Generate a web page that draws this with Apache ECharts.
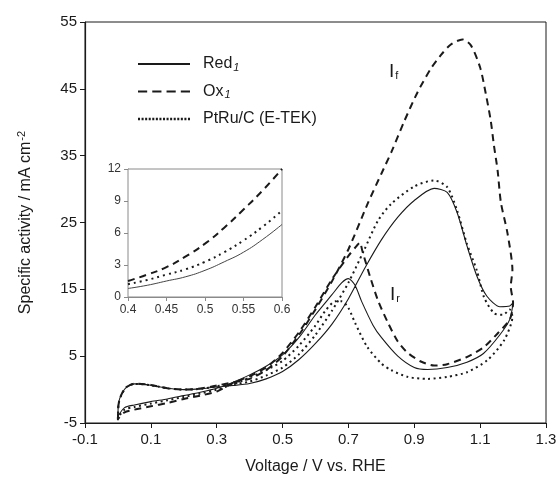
<!DOCTYPE html>
<html>
<head>
<meta charset="utf-8">
<script src="https://cdn.jsdelivr.net/npm/echarts@6/dist/echarts.min.js"></script>
<style>
  html, body { margin: 0; padding: 0; background: #fff; }
  #main { width: 560px; height: 485px; }
</style>
</head>
<body>
<div id="main"></div>
<script>
// main plot: one CV loop per sample, forward scan then backward scan [V, mA cm-2]
var redLoop = [
    [0.0, -4.3], [0.002, -2.0], [0.012, -0.6], [0.027, 0.4], [0.05, 0.85], [0.1, 0.65], [0.15, 0.2],
    [0.2, 0.0], [0.25, 0.1], [0.3, 0.4], [0.35, 0.6], [0.4, 0.9], [0.45, 1.6], [0.5, 2.7], [0.55, 4.5],
    [0.6, 6.9], [0.65, 9.8], [0.7, 13.6], [0.75, 18.2], [0.8, 22.4], [0.85, 25.8], [0.9, 28.3],
    [0.96, 30.1], [1.0, 29.5], [1.03, 26.5], [1.06, 21.5], [1.09, 17.0], [1.12, 14.0], [1.16, 12.4],
    [1.19, 12.5], [1.2, 13.0],
    [1.19, 10.5], [1.16, 8.2], [1.11, 5.4], [1.06, 4.1], [1.0, 3.3], [0.94, 3.0], [0.9, 3.3],
    [0.85, 5.0], [0.8, 7.8], [0.775, 9.6], [0.74, 13.2], [0.72, 15.6], [0.70, 16.6], [0.68, 16.0],
    [0.65, 14.2], [0.6, 11.2], [0.55, 7.8], [0.5, 5.2], [0.45, 3.5], [0.4, 2.2], [0.35, 1.1],
    [0.3, 0.2], [0.25, -0.4], [0.2, -0.9], [0.15, -1.4], [0.1, -1.8], [0.05, -2.3], [0.02, -2.7], [0.0, -4.0]
];
var oxLoop = [
    [0.0, -4.6], [0.002, -2.2], [0.012, -0.6], [0.027, 0.4], [0.05, 0.9], [0.1, 0.7], [0.15, 0.2],
    [0.2, 0.0], [0.25, 0.15], [0.3, 0.6], [0.35, 1.1], [0.4, 1.6], [0.45, 2.9], [0.5, 5.0], [0.55, 8.2],
    [0.6, 12.0], [0.65, 16.2], [0.7, 21.0], [0.76, 28.0], [0.8, 32.3], [0.83, 35.5], [0.87, 40.2],
    [0.91, 44.5], [0.95, 48.0], [0.98, 50.0], [1.01, 51.6], [1.046, 52.4], [1.072, 51.5], [1.1, 48.2],
    [1.117, 44.3], [1.132, 40.3], [1.142, 36.5], [1.153, 32.8], [1.163, 28.0], [1.183, 23.4],
    [1.198, 17.9], [1.193, 15.4], [1.2, 13.0],
    [1.19, 10.5], [1.153, 8.4], [1.11, 6.3], [1.061, 4.9], [1.0, 3.8], [0.96, 3.6], [0.92, 4.2],
    [0.88, 5.5], [0.85, 7.2], [0.82, 10.0], [0.79, 13.3], [0.765, 17.0], [0.742, 20.8], [0.735, 22.0],
    [0.725, 21.5], [0.7, 20.0], [0.65, 16.5], [0.6, 12.4], [0.55, 8.6], [0.5, 5.5], [0.45, 3.3],
    [0.4, 2.0], [0.35, 1.0], [0.3, -0.3], [0.25, -0.9], [0.2, -1.4], [0.15, -2.0], [0.1, -2.5],
    [0.05, -3.0], [0.02, -3.4], [0.0, -4.4]
];
var ptruLoop = [
    [0.0, -4.4], [0.002, -2.1], [0.012, -0.6], [0.027, 0.4], [0.05, 0.85], [0.1, 0.65], [0.15, 0.2],
    [0.2, 0.0], [0.25, 0.1], [0.3, 0.5], [0.35, 0.8], [0.4, 1.2], [0.45, 2.1], [0.5, 3.3], [0.55, 5.3],
    [0.6, 8.2], [0.65, 11.8], [0.7, 16.0], [0.747, 20.8], [0.79, 25.3], [0.83, 27.8], [0.9, 30.4],
    [0.96, 31.3], [1.0, 30.3], [1.03, 26.8], [1.06, 21.8], [1.09, 17.8], [1.112, 13.8], [1.143, 11.4],
    [1.17, 11.2], [1.19, 12.0],
    [1.198, 10.9], [1.173, 7.4], [1.122, 4.4], [1.06, 2.6], [1.0, 1.9], [0.94, 1.6], [0.88, 1.9],
    [0.83, 2.9], [0.8, 3.9], [0.757, 6.4], [0.72, 10.0], [0.7, 12.2], [0.68, 13.2], [0.66, 13.2],
    [0.63, 11.8], [0.6, 9.6], [0.55, 6.6], [0.5, 4.3], [0.45, 2.9], [0.4, 1.8], [0.35, 0.8], [0.3, 0.0],
    [0.25, -0.6], [0.2, -1.1], [0.15, -1.6], [0.1, -2.1], [0.05, -2.6], [0.02, -3.0], [0.0, -4.2]
];

// inset: forward scans between 0.4 and 0.6 V
var insetX = [0.40, 0.425, 0.45, 0.475, 0.50, 0.525, 0.55, 0.575, 0.60];
var insetRed = [0.8, 1.1, 1.5, 1.9, 2.5, 3.3, 4.2, 5.4, 6.8];
var insetOx = [1.5, 2.1, 2.8, 3.8, 5.0, 6.5, 8.2, 10.0, 12.0];
var insetPtru = [1.2, 1.6, 2.1, 2.6, 3.3, 4.2, 5.3, 6.6, 8.1];

var seriesNames = ['Red1', 'Ox1', 'PtRu/C (E-TEK)'];

function pairs(xs, ys) {
    var out = [];
    for (var i = 0; i < xs.length; i++) {
        out.push([xs[i], ys[i]]);
    }
    return out;
}

var ink = '#1a1a1a';
var font = 'Liberation Sans, Arial, sans-serif';
var solidStyle = { color: ink, width: 1.1, type: 'solid' };
var dashStyle = { color: ink, width: 2, type: [7, 5] };
var dotStyle = { color: ink, width: 2, type: [2, 3.5] };

var myChart = echarts.init(document.getElementById('main'));

var option = {
    animation: false,
    backgroundColor: '#fff',
    textStyle: { fontFamily: font, color: ink },
    grid: [
        { left: 85, top: 22, width: 461, height: 401, show: true, borderColor: ink, borderWidth: 1 },
        { left: 128, top: 169, width: 154, height: 128, show: true, borderColor: '#8a8a8a', borderWidth: 1, backgroundColor: '#fff', z: 5 }
    ],
    legend: {
        orient: 'vertical',
        left: 133,
        top: 51,
        itemWidth: 52,
        itemHeight: 16,
        itemGap: 10.5,
        textStyle: {
            fontFamily: font,
            fontSize: 16,
            color: ink,
            rich: {
                n: { fontSize: 16, fontFamily: font, color: ink, padding: [0, 0, 0, 8] },
                s: { fontSize: 11, fontFamily: font, fontStyle: 'italic', color: ink, padding: [7, 0, 0, 1] }
            }
        },
        formatter: function (name) {
            if (name === 'Red1') return '{n|Red}{s|1}';
            if (name === 'Ox1') return '{n|Ox}{s|1}';
            return '{n|' + name + '}';
        },
        data: [
            { name: 'Red1', icon: 'path://M0,7 L52,7 L52,9 L0,9 Z', itemStyle: { color: ink } },
            { name: 'Ox1', icon: 'path://M0,7 L9,7 L9,9 L0,9 Z M14,7 L23,7 L23,9 L14,9 Z M28,7 L37,7 L37,9 L28,9 Z M42,7 L51,7 L51,9 L42,9 Z', itemStyle: { color: ink } },
            { name: 'PtRu/C (E-TEK)', icon: 'path://M0,7 L2,7 L2,9.5 L0,9.5 Z M3.5,7 L5.5,7 L5.5,9.5 L3.5,9.5 Z M7,7 L9,7 L9,9.5 L7,9.5 Z M10.5,7 L12.5,7 L12.5,9.5 L10.5,9.5 Z M14,7 L16,7 L16,9.5 L14,9.5 Z M17.5,7 L19.5,7 L19.5,9.5 L17.5,9.5 Z M21,7 L23,7 L23,9.5 L21,9.5 Z M24.5,7 L26.5,7 L26.5,9.5 L24.5,9.5 Z M28,7 L30,7 L30,9.5 L28,9.5 Z M31.5,7 L33.5,7 L33.5,9.5 L31.5,9.5 Z M35,7 L37,7 L37,9.5 L35,9.5 Z M38.5,7 L40.5,7 L40.5,9.5 L38.5,9.5 Z M42,7 L44,7 L44,9.5 L42,9.5 Z M45.5,7 L47.5,7 L47.5,9.5 L45.5,9.5 Z M49,7 L51,7 L51,9.5 L49,9.5 Z', itemStyle: { color: ink } }
        ]
    },
    xAxis: [
        {
            gridIndex: 0, type: 'value', min: -0.1, max: 1.3, interval: 0.2,
            name: 'Voltage / V vs. RHE', nameLocation: 'middle', nameGap: 36,
            nameTextStyle: { fontSize: 16, fontFamily: font, color: ink },
            axisLine: { onZero: false, lineStyle: { color: ink, width: 1.2 } },
            axisTick: { length: 5, lineStyle: { color: ink } },
            axisLabel: { fontSize: 15, color: ink, margin: 9, formatter: function (v) { return v.toFixed(1); } },
            splitLine: { show: false }
        },
        {
            gridIndex: 1, type: 'value', min: 0.4, max: 0.6, interval: 0.05,
            axisLine: { onZero: false, lineStyle: { color: '#8a8a8a', width: 1 } },
            axisTick: { length: 4, lineStyle: { color: '#8a8a8a' } },
            axisLabel: { fontSize: 12, color: '#333', margin: 7, formatter: function (v) { return String(parseFloat(v.toFixed(2))); } },
            splitLine: { show: false }
        }
    ],
    yAxis: [
        {
            gridIndex: 0, type: 'value', min: -5, max: 55, interval: 10,
            name: 'Specific activity / mA cm{sup|-2}', nameLocation: 'middle', nameGap: 49, nameRotate: 90,
            nameTextStyle: {
                fontSize: 16, fontFamily: font, color: ink,
                rich: { sup: { fontSize: 11, fontFamily: font, color: ink, padding: [0, 0, 9, 1] } }
            },
            axisLine: { onZero: false, lineStyle: { color: ink, width: 1.2 } },
            axisTick: { length: 5, lineStyle: { color: ink } },
            axisLabel: { fontSize: 15, color: ink, margin: 8 },
            splitLine: { show: false }
        },
        {
            gridIndex: 1, type: 'value', min: 0, max: 12, interval: 3,
            axisLine: { onZero: false, lineStyle: { color: '#8a8a8a', width: 1 } },
            axisTick: { length: 4, lineStyle: { color: '#8a8a8a' } },
            axisLabel: { fontSize: 12, color: '#333', margin: 7 },
            splitLine: { show: false }
        }
    ],
    graphic: [
        {
            type: 'text', left: 389, top: 62, z: 10,
            style: {
                text: '{a|I}{b|f}', fill: ink,
                rich: { a: { fontSize: 19, fontFamily: font, fill: ink }, b: { fontSize: 11, fontFamily: font, fill: ink, padding: [8, 0, 0, 1] } }
            }
        },
        {
            type: 'text', left: 390, top: 285, z: 10,
            style: {
                text: '{a|I}{b|r}', fill: ink,
                rich: { a: { fontSize: 19, fontFamily: font, fill: ink }, b: { fontSize: 11, fontFamily: font, fill: ink, padding: [8, 0, 0, 1] } }
            }
        }
    ],
    series: [
        { name: seriesNames[0], type: 'line', xAxisIndex: 0, yAxisIndex: 0, data: redLoop, showSymbol: false, smooth: 0.25, lineStyle: solidStyle },
        { name: seriesNames[1], type: 'line', xAxisIndex: 0, yAxisIndex: 0, data: oxLoop, showSymbol: false, smooth: 0.25, lineStyle: dashStyle },
        { name: seriesNames[2], type: 'line', xAxisIndex: 0, yAxisIndex: 0, data: ptruLoop, showSymbol: false, smooth: 0.25, lineStyle: dotStyle },
        { name: 'insetRed', type: 'line', xAxisIndex: 1, yAxisIndex: 1, data: pairs(insetX, insetRed), showSymbol: false, smooth: true, z: 6, lineStyle: { color: '#444', width: 1, type: 'solid' } },
        { name: 'insetOx', type: 'line', xAxisIndex: 1, yAxisIndex: 1, data: pairs(insetX, insetOx), showSymbol: false, smooth: true, z: 6, lineStyle: { color: ink, width: 2, type: [7, 5] } },
        { name: 'insetPtru', type: 'line', xAxisIndex: 1, yAxisIndex: 1, data: pairs(insetX, insetPtru), showSymbol: false, smooth: true, z: 6, lineStyle: { color: ink, width: 2, type: [2, 4] } }
    ]
};

myChart.setOption(option);
</script>
</body>
</html>
